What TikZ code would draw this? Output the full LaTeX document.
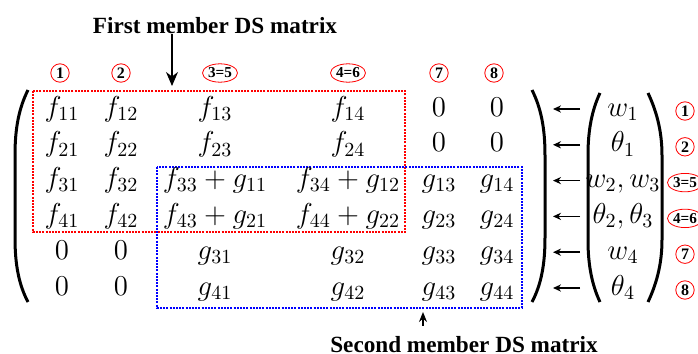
\documentclass[tikz,border=0pt]{standalone}
\usepackage{fontspec}
\newfontfamily\lblfont{Liberation Serif}
\usetikzlibrary{arrows.meta,shapes.geometric,positioning}

\begin{document}
\begin{tikzpicture}[x=0.5pt,y=-0.5pt,
      entry/.style = {anchor=base,inner sep=0,font=\fontsize{14.4}{17}\selectfont},
      title/.style = {anchor=base,inner sep=0,font=\lblfont\bfseries\fontsize{11.6}{13}\selectfont},
      num/.style = {circle,draw=red,thin,inner sep=0,minimum size=9.2pt,font=\lblfont\bfseries\fontsize{8}{9}\selectfont},
      numpair/.style = {ellipse,draw=red,thin,inner sep=0,minimum width=17.5pt,minimum height=9.2pt,font=\lblfont\bfseries\fontsize{7.6}{8}\selectfont},
      arrow/.style = {-{Stealth[length=4pt,width=3.6pt]},thick},
      paren/.style = {line width=1.5pt},
      firstbox/.style = {draw=red,line width=1pt,dash pattern=on 1pt off 0.6pt},
      secondbox/.style = {draw=blue,line width=1pt,dash pattern=on 1pt off 0.6pt}
    ]
      \useasboundingbox (0,0) rectangle (698,354);

      % titles and their arrows
      \node[title] (first) at (215,33) {First member DS matrix};
      \coordinate (firsttip) at (172,86);
      \draw[-{Stealth[length=7pt,width=6pt]},thick] (first.south -| firsttip) -- (firsttip);
      \node[title] (second) at (464,352) {Second member DS matrix};
      \coordinate (secondtip) at (423,312);
      \draw[-{Stealth[length=5pt,width=4pt]},semithick] ([yshift=5pt]second.north -| secondtip) -- (secondtip);

      % dof numbers over the columns
      \node[num] (t1) at (60,73) {1};
      \node[num] (t2) at (121,73) {2};
      \node[numpair] (t35) at (220,73) {3=5};
      \node[numpair] (t46) at (348,73) {4=6};
      \node[num] (t7) at (439,73) {7};
      \node[num] (t8) at (494,73) {8};

      % member matrices
      \draw[firstbox] (33,91) rectangle (405,232);
      \draw[secondbox] (157,167) rectangle (522,308);

      % global matrix
      \foreach \row [count=\r] in {
          {f_{11},f_{12},f_{13},f_{14},0,0},
          {f_{21},f_{22},f_{23},f_{24},0,0},
          {f_{31},f_{32},f_{33}+g_{11},f_{34}+g_{12},g_{13},g_{14}},
          {f_{41},f_{42},f_{43}+g_{21},f_{44}+g_{22},g_{23},g_{24}},
          {0,0,g_{31},g_{32},g_{33},g_{34}},
          {0,0,g_{41},g_{42},g_{43},g_{44}}}{
        \pgfmathsetmacro\y{116+35.8*(\r-1)}
        \foreach \e [count=\c] in \row {
          \pgfmathsetmacro\x{{62,121,215,348,439,497}[\c-1]}
          \node[entry] (m\r\c) at (\x,\y) {$\e$};
        }
      }

      % displacement vector, arrows and dof numbers
      \foreach \v/\n/\s [count=\r] in {w_1/1/num, \theta_1/2/num, {w_2, w_3}/3=5/numpair,
          {\theta_2, \theta_3}/4=6/numpair, w_4/7/num, \theta_4/8/num}{
        \pgfmathsetmacro\y{116+35.8*(\r-1)}
        \node[entry] (v\r) at (623,\y) {$\v$};
        \coordinate (ar\r) at (580,\y-7);
        \coordinate (br\r) at (553,\y-7);
        \draw[arrow] (ar\r) -- (br\r);
        \node[\s] (r\r) at (685,\y-5) {\n};
      }

      % brackets
      \draw[paren] (28,90) .. controls (19,108) and (15,128) .. (15,155) -- (15,238)
        .. controls (15,265) and (19,285) .. (28,302);
      \draw[paren] (532,90) .. controls (541,108) and (545,128) .. (545,155) -- (545,238)
        .. controls (545,265) and (541,285) .. (532,302);
      \draw[paren] (600,93) .. controls (592,110) and (588,130) .. (588,155) -- (588,240)
        .. controls (588,265) and (592,285) .. (600,302);
      \draw[paren] (648,93) .. controls (656,110) and (662,130) .. (662,155) -- (662,240)
        .. controls (662,265) and (656,285) .. (648,302);
    \end{tikzpicture}
\end{document}
